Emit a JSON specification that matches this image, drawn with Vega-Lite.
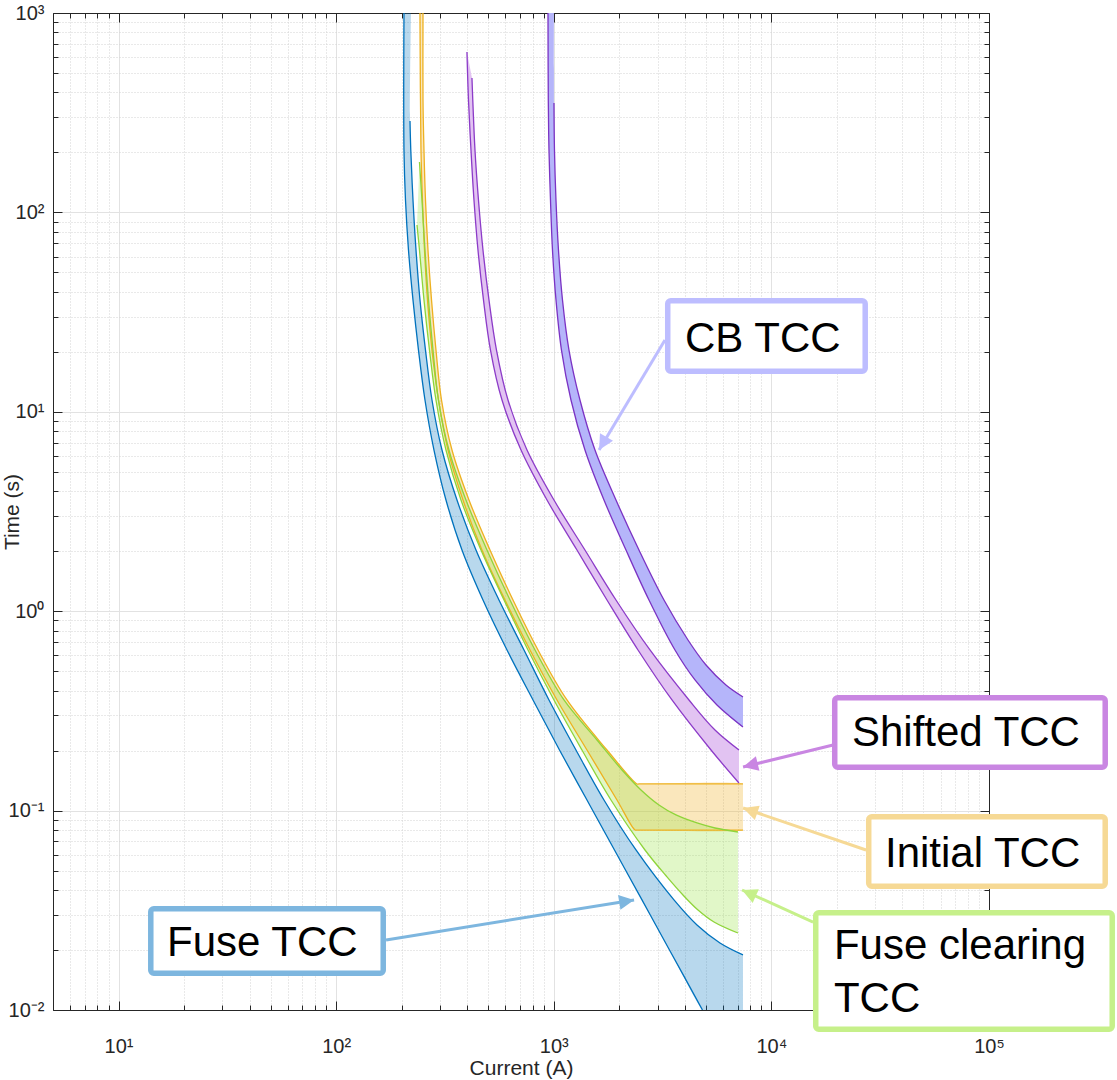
{
  "$schema": "https://vega.github.io/schema/vega-lite/v6.json",
  "width": 936,
  "height": 997,
  "autosize": {"type": "none"},
  "padding": {"left": 53, "top": 13, "right": 128, "bottom": 70},
  "background": "white",
  "config": {"view": {"stroke": null}, "font": "Liberation Sans"},
  "datasets": {
    "curves": [
      {"b":"fuse","s":1,"e":"lo","I":205.0,"t":1000},
      {"b":"fuse","s":2,"e":"lo","I":205.0,"t":205.6},
      {"b":"fuse","s":3,"e":"lo","I":208.3,"t":115.4},
      {"b":"fuse","s":4,"e":"lo","I":215.0,"t":64.8},
      {"b":"fuse","s":5,"e":"lo","I":225.5,"t":36.4},
      {"b":"fuse","s":6,"e":"lo","I":239.0,"t":20.4},
      {"b":"fuse","s":7,"e":"lo","I":256.0,"t":11.46},
      {"b":"fuse","s":8,"e":"lo","I":281.6,"t":6.432},
      {"b":"fuse","s":9,"e":"lo","I":319.7,"t":3.611},
      {"b":"fuse","s":10,"e":"lo","I":378.7,"t":2.027},
      {"b":"fuse","s":11,"e":"lo","I":472.9,"t":1.138},
      {"b":"fuse","s":12,"e":"lo","I":609.7,"t":0.639},
      {"b":"fuse","s":13,"e":"lo","I":802.9,"t":0.3587},
      {"b":"fuse","s":14,"e":"lo","I":1062.4,"t":0.2013},
      {"b":"fuse","s":15,"e":"lo","I":1421.1,"t":0.113},
      {"b":"fuse","s":16,"e":"lo","I":1901.2,"t":0.06345},
      {"b":"fuse","s":17,"e":"lo","I":2543.3,"t":0.03565},
      {"b":"fuse","s":18,"e":"lo","I":3402.2,"t":0.02},
      {"b":"fuse","s":19,"e":"lo","I":4824.9,"t":0.01},
      {"b":"fuse","s":19.5,"e":"","I":4870,"t":0.01},
      {"b":"fuse","s":20,"e":"","I":7330,"t":0.01},
      {"b":"fuse","s":21,"e":"","I":7405,"t":0.01},
      {"b":"fuse","s":22,"e":"","I":7405,"t":0.0102},
      {"b":"fuse","s":23,"e":"","I":7405,"t":0.0186},
      {"b":"fuse","s":24,"e":"hi","I":7405,"t":0.01888},
      {"b":"fuse","s":25,"e":"hi","I":5805,"t":0.02168},
      {"b":"fuse","s":26,"e":"hi","I":4552.2,"t":0.0267},
      {"b":"fuse","s":27,"e":"hi","I":3568,"t":0.03565},
      {"b":"fuse","s":28,"e":"hi","I":2386.8,"t":0.06345},
      {"b":"fuse","s":29,"e":"hi","I":1701.3,"t":0.113},
      {"b":"fuse","s":30,"e":"hi","I":1264.9,"t":0.2013},
      {"b":"fuse","s":31,"e":"hi","I":950.8,"t":0.3587},
      {"b":"fuse","s":32,"e":"hi","I":730,"t":0.639},
      {"b":"fuse","s":33,"e":"hi","I":560.2,"t":1.138},
      {"b":"fuse","s":34,"e":"hi","I":439.1,"t":2.027},
      {"b":"fuse","s":35,"e":"hi","I":359.2,"t":3.611},
      {"b":"fuse","s":36,"e":"hi","I":306.5,"t":6.432},
      {"b":"fuse","s":37,"e":"hi","I":275.7,"t":11.46},
      {"b":"fuse","s":38,"e":"hi","I":257.4,"t":20.4},
      {"b":"fuse","s":39,"e":"hi","I":242.8,"t":36.4},
      {"b":"fuse","s":40,"e":"hi","I":232.8,"t":64.8},
      {"b":"fuse","s":41,"e":"hi","I":225.5,"t":115.4},
      {"b":"fuse","s":42,"e":"hi","I":220.3,"t":205.6},
      {"b":"fuse","s":43,"e":"hi","I":218.5,"t":287.3},
      {"b":"fuse","s":44,"e":"","I":220.8,"t":1000},

      {"b":"initial","s":1,"e":"hi","I":250.7,"t":1000},
      {"b":"initial","s":2,"e":"hi","I":250.7,"t":366.2},
      {"b":"initial","s":3,"e":"hi","I":253.3,"t":205.6},
      {"b":"initial","s":4,"e":"hi","I":257.4,"t":115.4},
      {"b":"initial","s":5,"e":"hi","I":264.3,"t":64.8},
      {"b":"initial","s":6,"e":"hi","I":274.3,"t":36.4},
      {"b":"initial","s":7,"e":"hi","I":287.6,"t":20.4},
      {"b":"initial","s":8,"e":"hi","I":304.9,"t":11.46},
      {"b":"initial","s":9,"e":"hi","I":340.7,"t":6.432},
      {"b":"initial","s":10,"e":"hi","I":407.8,"t":3.611},
      {"b":"initial","s":11,"e":"hi","I":509.3,"t":2.027},
      {"b":"initial","s":12,"e":"hi","I":649.7,"t":1.138},
      {"b":"initial","s":13,"e":"hi","I":846.5,"t":0.639},
      {"b":"initial","s":14,"e":"hi","I":1150.1,"t":0.3587},
      {"b":"initial","s":15,"e":"hi","I":1756.1,"t":0.2013},
      {"b":"initial","s":16,"e":"hi","I":2412.2,"t":0.136},
      {"b":"initial","s":17,"e":"hi","I":2463.8,"t":0.136},
      {"b":"initial","s":18,"e":"hi","I":7405,"t":0.136},
      {"b":"initial","s":19,"e":"","I":7405,"t":0.134},
      {"b":"initial","s":20,"e":"","I":7405,"t":0.0811},
      {"b":"initial","s":21,"e":"lo","I":7405,"t":0.0799},
      {"b":"initial","s":22,"e":"lo","I":2412.2,"t":0.0799},
      {"b":"initial","s":23,"e":"lo","I":2361.7,"t":0.0799},
      {"b":"initial","s":24,"e":"lo","I":1952.2,"t":0.113},
      {"b":"initial","s":25,"e":"lo","I":1421.1,"t":0.2013},
      {"b":"initial","s":26,"e":"lo","I":1034.6,"t":0.3587},
      {"b":"initial","s":27,"e":"lo","I":777.8,"t":0.639},
      {"b":"initial","s":28,"e":"lo","I":597,"t":1.138},
      {"b":"initial","s":29,"e":"lo","I":467.9,"t":2.027},
      {"b":"initial","s":30,"e":"lo","I":382.7,"t":3.611},
      {"b":"initial","s":31,"e":"lo","I":326.5,"t":6.432},
      {"b":"initial","s":32,"e":"lo","I":295.3,"t":11.46},
      {"b":"initial","s":33,"e":"lo","I":275.7,"t":20.4},
      {"b":"initial","s":34,"e":"lo","I":262.9,"t":36.4},
      {"b":"initial","s":35,"e":"lo","I":254.7,"t":64.8},
      {"b":"initial","s":36,"e":"lo","I":249.3,"t":115.4},
      {"b":"initial","s":37,"e":"lo","I":245.4,"t":205.6},
      {"b":"initial","s":38,"e":"lo","I":242.8,"t":1000},

      {"b":"clearing","s":1,"e":"hi","I":241.5,"t":178.9},
      {"b":"clearing","s":2,"e":"hi","I":248,"t":115.4},
      {"b":"clearing","s":3,"e":"hi","I":256,"t":64.8},
      {"b":"clearing","s":4,"e":"hi","I":265.7,"t":36.4},
      {"b":"clearing","s":5,"e":"hi","I":278.7,"t":20.4},
      {"b":"clearing","s":6,"e":"hi","I":295.3,"t":11.46},
      {"b":"clearing","s":7,"e":"hi","I":330,"t":6.432},
      {"b":"clearing","s":8,"e":"hi","I":395,"t":3.611},
      {"b":"clearing","s":9,"e":"hi","I":493.4,"t":2.027},
      {"b":"clearing","s":10,"e":"hi","I":629.4,"t":1.138},
      {"b":"clearing","s":11,"e":"hi","I":820,"t":0.639},
      {"b":"clearing","s":12,"e":"hi","I":1114.2,"t":0.3587},
      {"b":"clearing","s":13,"e":"hi","I":1579.9,"t":0.2259},
      {"b":"clearing","s":14,"e":"hi","I":2058.3,"t":0.1598},
      {"b":"clearing","s":15,"e":"hi","I":2516.5,"t":0.1269},
      {"b":"clearing","s":16,"e":"hi","I":3044.5,"t":0.1067},
      {"b":"clearing","s":17,"e":"hi","I":3644.3,"t":0.0951},
      {"b":"clearing","s":18,"e":"hi","I":4552.2,"t":0.0867},
      {"b":"clearing","s":19,"e":"hi","I":5507.1,"t":0.0818},
      {"b":"clearing","s":20,"e":"hi","I":7022.5,"t":0.0781},
      {"b":"clearing","s":21,"e":"","I":7022.5,"t":0.0772},
      {"b":"clearing","s":22,"e":"","I":7022.5,"t":0.0249},
      {"b":"clearing","s":23,"e":"lo","I":7022.5,"t":0.02433},
      {"b":"clearing","s":24,"e":"lo","I":5449.2,"t":0.02763},
      {"b":"clearing","s":25,"e":"lo","I":4600.6,"t":0.03174},
      {"b":"clearing","s":26,"e":"lo","I":3924.6,"t":0.03774},
      {"b":"clearing","s":27,"e":"lo","I":3313.4,"t":0.0465},
      {"b":"clearing","s":28,"e":"lo","I":2625.3,"t":0.06345},
      {"b":"clearing","s":29,"e":"lo","I":1832.1,"t":0.113},
      {"b":"clearing","s":30,"e":"lo","I":1347.9,"t":0.2013},
      {"b":"clearing","s":31,"e":"lo","I":1002.3,"t":0.3587},
      {"b":"clearing","s":32,"e":"lo","I":761.5,"t":0.639},
      {"b":"clearing","s":33,"e":"lo","I":590.7,"t":1.138},
      {"b":"clearing","s":34,"e":"lo","I":463,"t":2.027},
      {"b":"clearing","s":35,"e":"lo","I":374.7,"t":3.611},
      {"b":"clearing","s":36,"e":"lo","I":319.7,"t":6.432},
      {"b":"clearing","s":37,"e":"lo","I":287.6,"t":11.46},
      {"b":"clearing","s":38,"e":"lo","I":268.5,"t":20.4},
      {"b":"clearing","s":39,"e":"lo","I":253.3,"t":36.4},
      {"b":"clearing","s":40,"e":"lo","I":241.5,"t":64.8},
      {"b":"clearing","s":41,"e":"lo","I":235.3,"t":86.5},

      {"b":"shifted","s":1,"e":"lo","I":399.2,"t":637.4},
      {"b":"shifted","s":2,"e":"lo","I":405.6,"t":366.2},
      {"b":"shifted","s":3,"e":"lo","I":416.5,"t":205.6},
      {"b":"shifted","s":4,"e":"lo","I":429.9,"t":115.4},
      {"b":"shifted","s":5,"e":"lo","I":448.5,"t":64.8},
      {"b":"shifted","s":6,"e":"lo","I":475.4,"t":36.4},
      {"b":"shifted","s":7,"e":"lo","I":512,"t":20.4},
      {"b":"shifted","s":8,"e":"lo","I":578.3,"t":11.46},
      {"b":"shifted","s":9,"e":"lo","I":707.2,"t":6.432},
      {"b":"shifted","s":10,"e":"lo","I":930.9,"t":3.611},
      {"b":"shifted","s":11,"e":"lo","I":1278.3,"t":2.027},
      {"b":"shifted","s":12,"e":"lo","I":1756.1,"t":1.138},
      {"b":"shifted","s":13,"e":"lo","I":2437.9,"t":0.639},
      {"b":"shifted","s":14,"e":"lo","I":3493.4,"t":0.3587},
      {"b":"shifted","s":15,"e":"lo","I":5278.9,"t":0.2013},
      {"b":"shifted","s":16,"e":"lo","I":7097.1,"t":0.1376},
      {"b":"shifted","s":17,"e":"","I":7097.1,"t":0.1396},
      {"b":"shifted","s":18,"e":"","I":7097.1,"t":0.1985},
      {"b":"shifted","s":19,"e":"hi","I":7097.1,"t":0.2013},
      {"b":"shifted","s":20,"e":"hi","I":5507.1,"t":0.2536},
      {"b":"shifted","s":21,"e":"hi","I":4182.1,"t":0.3587},
      {"b":"shifted","s":22,"e":"hi","I":2768,"t":0.639},
      {"b":"shifted","s":23,"e":"hi","I":1931.6,"t":1.138},
      {"b":"shifted","s":24,"e":"hi","I":1391.3,"t":2.027},
      {"b":"shifted","s":25,"e":"hi","I":1002.3,"t":3.611},
      {"b":"shifted","s":26,"e":"hi","I":753.5,"t":6.432},
      {"b":"shifted","s":27,"e":"hi","I":616.2,"t":11.46},
      {"b":"shifted","s":28,"e":"hi","I":545.6,"t":20.4},
      {"b":"shifted","s":29,"e":"hi","I":503.9,"t":36.4},
      {"b":"shifted","s":30,"e":"hi","I":472.9,"t":64.8},
      {"b":"shifted","s":31,"e":"hi","I":450.9,"t":115.4},
      {"b":"shifted","s":32,"e":"hi","I":434.5,"t":205.6},
      {"b":"shifted","s":33,"e":"hi","I":424.5,"t":366.2},
      {"b":"shifted","s":34,"e":"hi","I":420.9,"t":472.1},

      {"b":"cb","s":1,"e":"lo","I":940.8,"t":1000},
      {"b":"cb","s":2,"e":"lo","I":943.8,"t":366.2},
      {"b":"cb","s":3,"e":"lo","I":950.8,"t":205.6},
      {"b":"cb","s":4,"e":"lo","I":966,"t":115.4},
      {"b":"cb","s":5,"e":"lo","I":986.6,"t":64.8},
      {"b":"cb","s":6,"e":"lo","I":1023.8,"t":36.4},
      {"b":"cb","s":7,"e":"lo","I":1085.1,"t":20.4},
      {"b":"cb","s":8,"e":"lo","I":1199.9,"t":11.46},
      {"b":"cb","s":9,"e":"lo","I":1391.3,"t":6.432},
      {"b":"cb","s":10,"e":"lo","I":1701.3,"t":3.611},
      {"b":"cb","s":11,"e":"lo","I":2147.3,"t":2.027},
      {"b":"cb","s":12,"e":"lo","I":2738.8,"t":1.138},
      {"b":"cb","s":13,"e":"lo","I":3606,"t":0.639},
      {"b":"cb","s":14,"e":"lo","I":4456.9,"t":0.452},
      {"b":"cb","s":15,"e":"lo","I":5623.4,"t":0.3386},
      {"b":"cb","s":16,"e":"lo","I":7405,"t":0.2627},
      {"b":"cb","s":17,"e":"","I":7405,"t":0.2655},
      {"b":"cb","s":18,"e":"","I":7405,"t":0.367},
      {"b":"cb","s":19,"e":"hi","I":7405,"t":0.3713},
      {"b":"cb","s":20,"e":"hi","I":6183.3,"t":0.4265},
      {"b":"cb","s":21,"e":"hi","I":5006.9,"t":0.537},
      {"b":"cb","s":22,"e":"hi","I":4138,"t":0.717},
      {"b":"cb","s":23,"e":"hi","I":3209.9,"t":1.138},
      {"b":"cb","s":24,"e":"hi","I":2463.8,"t":2.027},
      {"b":"cb","s":25,"e":"hi","I":1931.6,"t":3.611},
      {"b":"cb","s":26,"e":"hi","I":1546.8,"t":6.432},
      {"b":"cb","s":27,"e":"hi","I":1319.6,"t":11.46},
      {"b":"cb","s":28,"e":"hi","I":1174.8,"t":20.4},
      {"b":"cb","s":29,"e":"hi","I":1096.6,"t":36.4},
      {"b":"cb","s":30,"e":"hi","I":1051.2,"t":64.8},
      {"b":"cb","s":31,"e":"hi","I":1023.8,"t":115.4},
      {"b":"cb","s":32,"e":"hi","I":1007.6,"t":205.6},
      {"b":"cb","s":33,"e":"hi","I":1002.3,"t":353.7},
      {"b":"cb","s":34,"e":"","I":1002.3,"t":1000}
    ],
    "arrows": [
      {"label":"CB TCC","I1":3244,"t1":22.92,"I2":1615,"t2":6.43},
      {"label":"Shifted TCC","I1":19210,"t1":0.2133,"I2":7413,"t2":0.1655},
      {"label":"Initial TCC","I1":27240,"t1":0.06345,"I2":7413,"t2":0.103},
      {"label":"Fuse clearing TCC","I1":15545,"t1":0.02762,"I2":7335,"t2":0.03998},
      {"label":"Fuse TCC","I1":169.6,"t1":0.02244,"I2":2339,"t2":0.03565}
    ],
    "boxes": [
      {"label":"CB TCC","x1":3340,"x2":26990,"y1":15.97,"y2":36.06},
      {"label":"Shifted TCC","x1":19550,"x2":342000,"y1":0.165,"y2":0.3681},
      {"label":"Initial TCC","x1":28010,"x2":342000,"y1":0.04176,"y2":0.0931},
      {"label":"Fuse clearing TCC","x1":15990,"x2":368300,"y1":0.00801,"y2":0.03075},
      {"label":"Fuse TCC","x1":14.07,"x2":164.6,"y1":0.01528,"y2":0.03219}
    ],
    "texts": [
      {"txt":"CB TCC","I":4009,"t":19.95},
      {"txt":"Shifted TCC","I":23460,"t":0.2109},
      {"txt":"Initial TCC","I":33270,"t":0.05215},
      {"txt":"Fuse clearing","I":19390,"t":0.01803},
      {"txt":"TCC","I":19390,"t":0.00977},
      {"txt":"Fuse TCC","I":16.7,"t":0.01866}
    ]
  },
  "layer": [
    {
      "data": {"name": "curves"},
      "mark": {"type": "line", "filled": true, "stroke": "transparent", "clip": true, "interpolate": "catmull-rom"},
      "encoding": {
        "x": {"field": "I", "type": "quantitative", "scale": {"type": "log", "domain": [5, 100000], "nice": false},
          "axis": {
            "orient": "bottom",
            "values": [5,6,7,8,9,10,20,30,40,50,60,70,80,90,100,200,300,400,500,600,700,800,900,1000,2000,3000,4000,5000,6000,7000,8000,9000,10000,20000,30000,40000,50000,60000,70000,80000,90000,100000],
            "title": "Current (A)",
            "grid": true,
            "gridColor": {"condition": {"test": "abs(log(datum.value)/LN10-round(log(datum.value)/LN10))<0.001", "value": "#e2e2e2"}, "value": "#d2d2d2"},
            "gridDash": {"condition": {"test": "abs(log(datum.value)/LN10-round(log(datum.value)/LN10))<0.001", "value": []}, "value": [1, 2]},
            "gridWidth": 1,
            "domainColor": "#262626",
            "tickColor": "#262626",
            "tickWidth": 1,
            "tickSize": {"condition": {"test": "abs(log(datum.value)/LN10-round(log(datum.value)/LN10))<0.001", "value": -9}, "value": -5},
            "labelExpr": "datum.value==10?'10¹':datum.value==100?'10²':datum.value==1000?'10³':datum.value==10000?'10⁴':datum.value==100000?'10⁵':''",
            "labelFont": "Liberation Sans",
            "labelFontSize": 20,
            "labelColor": "#262626",
            "labelPadding": 35,
            "labelFlush": false,
            "labelOverlap": false,
            "labelBound": false,
            "titleFont": "Liberation Sans",
            "titleFontSize": 21,
            "titleFontWeight": "normal",
            "titleColor": "#262626",
            "titleY": 58,
            "titleBaseline": "middle"
          }
        },
        "y": {"field": "t", "type": "quantitative", "scale": {"type": "log", "domain": [0.01, 1000], "nice": false},
          "axis": {
            "orient": "left",
            "values": [0.01,0.02,0.03,0.04,0.05,0.06,0.07,0.08,0.09,0.1,0.2,0.3,0.4,0.5,0.6,0.7,0.8,0.9,1,2,3,4,5,6,7,8,9,10,20,30,40,50,60,70,80,90,100,200,300,400,500,600,700,800,900,1000],
            "title": "Time (s)",
            "grid": true,
            "gridColor": {"condition": {"test": "abs(log(datum.value)/LN10-round(log(datum.value)/LN10))<0.001", "value": "#e2e2e2"}, "value": "#d2d2d2"},
            "gridDash": {"condition": {"test": "abs(log(datum.value)/LN10-round(log(datum.value)/LN10))<0.001", "value": []}, "value": [1, 2]},
            "gridWidth": 1,
            "domainColor": "#262626",
            "tickColor": "#262626",
            "tickWidth": 1,
            "tickSize": {"condition": {"test": "abs(log(datum.value)/LN10-round(log(datum.value)/LN10))<0.001", "value": -9}, "value": -5},
            "labelExpr": "datum.value==0.01?'10⁻²':datum.value==0.1?'10⁻¹':datum.value==1?'10⁰':datum.value==10?'10¹':datum.value==100?'10²':datum.value==1000?'10³':''",
            "labelFont": "Liberation Sans",
            "labelFontSize": 20,
            "labelColor": "#262626",
            "labelPadding": 18,
            "labelFlush": false,
            "labelOverlap": false,
            "labelBound": false,
            "titleFont": "Liberation Sans",
            "titleFontSize": 21,
            "titleFontWeight": "normal",
            "titleColor": "#262626",
            "titleX": -41,
            "titleBaseline": "middle"
          }
        },
        "fill": {"field": "b", "type": "nominal", "scale": {"domain": ["fuse","initial","clearing","shifted","cb"], "range": ["rgba(0,114,189,0.28)","rgba(237,177,32,0.3)","rgba(155,228,72,0.3)","#e2c3f2","#b5b5fa"]}, "legend": null},
        "order": {"field": "s", "type": "quantitative"}
      }
    },
    {
      "data": {"name": "curves"},
      "transform": [{"filter": "datum.e != ''"}],
      "mark": {"type": "line", "strokeWidth": 1.3, "clip": true, "interpolate": "catmull-rom"},
      "encoding": {
        "x": {"field": "I", "type": "quantitative", "scale": {"type": "log", "domain": [5, 100000], "nice": false},
          "axis": {
            "orient": "top",
            "values": [5,6,7,8,9,10,20,30,40,50,60,70,80,90,100,200,300,400,500,600,700,800,900,1000,2000,3000,4000,5000,6000,7000,8000,9000,10000,20000,30000,40000,50000,60000,70000,80000,90000,100000],
            "title": null, "labels": false, "grid": false,
            "domainColor": "#262626", "tickColor": "#262626", "tickWidth": 1,
            "tickSize": {"condition": {"test": "abs(log(datum.value)/LN10-round(log(datum.value)/LN10))<0.001", "value": -9}, "value": -5}
          }
        },
        "y": {"field": "t", "type": "quantitative", "scale": {"type": "log", "domain": [0.01, 1000], "nice": false},
          "axis": {
            "orient": "right",
            "values": [0.01,0.02,0.03,0.04,0.05,0.06,0.07,0.08,0.09,0.1,0.2,0.3,0.4,0.5,0.6,0.7,0.8,0.9,1,2,3,4,5,6,7,8,9,10,20,30,40,50,60,70,80,90,100,200,300,400,500,600,700,800,900,1000],
            "title": null, "labels": false, "grid": false,
            "domainColor": "#262626", "tickColor": "#262626", "tickWidth": 1,
            "tickSize": {"condition": {"test": "abs(log(datum.value)/LN10-round(log(datum.value)/LN10))<0.001", "value": -9}, "value": -5}
          }
        },
        "stroke": {"field": "b", "type": "nominal", "scale": {"domain": ["fuse","initial","clearing","shifted","cb"], "range": ["#0072bd","#edb120","#8fd43a","#8c3bc8","#7b33c4"]}, "legend": null},
        "detail": {"field": "e", "type": "nominal"},
        "order": {"field": "s", "type": "quantitative"}
      }
    },
    {
      "data": {"name": "arrows"},
      "mark": {"type": "rule", "strokeWidth": 3},
      "encoding": {
        "x": {"field": "I1", "type": "quantitative", "scale": {"type": "log", "domain": [5, 100000], "nice": false}, "axis": null},
        "y": {"field": "t1", "type": "quantitative", "scale": {"type": "log", "domain": [0.01, 1000], "nice": false}, "axis": null},
        "x2": {"field": "I2"},
        "y2": {"field": "t2"},
        "stroke": {"field": "label", "type": "nominal", "scale": {"domain": ["CB TCC","Shifted TCC","Initial TCC","Fuse clearing TCC","Fuse TCC"], "range": ["#bdbdff","#c986e2","#f6d995","#c6f08a","#7db6df"]}, "legend": null}
      }
    },
    {
      "data": {"name": "arrows"},
      "transform": [{"filter": "datum.label == 'CB TCC'"}],
      "mark": {"type": "point", "shape": "M0,0L-0.5,1L0.5,1Z", "size": 900, "filled": true, "opacity": 1, "color": "#bdbdff", "angle": 209.7},
      "encoding": {
        "x": {"field": "I2", "type": "quantitative", "scale": {"type": "log", "domain": [5, 100000], "nice": false}, "axis": null},
        "y": {"field": "t2", "type": "quantitative", "scale": {"type": "log", "domain": [0.01, 1000], "nice": false}, "axis": null}
      }
    },
    {
      "data": {"name": "arrows"},
      "transform": [{"filter": "datum.label == 'Shifted TCC'"}],
      "mark": {"type": "point", "shape": "M0,0L-0.5,1L0.5,1Z", "size": 900, "filled": true, "opacity": 1, "color": "#c986e2", "angle": 256.3},
      "encoding": {
        "x": {"field": "I2", "type": "quantitative", "scale": {"type": "log", "domain": [5, 100000], "nice": false}, "axis": null},
        "y": {"field": "t2", "type": "quantitative", "scale": {"type": "log", "domain": [0.01, 1000], "nice": false}, "axis": null}
      }
    },
    {
      "data": {"name": "arrows"},
      "transform": [{"filter": "datum.label == 'Initial TCC'"}],
      "mark": {"type": "point", "shape": "M0,0L-0.5,1L0.5,1Z", "size": 900, "filled": true, "opacity": 1, "color": "#f6d995", "angle": 288.9},
      "encoding": {
        "x": {"field": "I2", "type": "quantitative", "scale": {"type": "log", "domain": [5, 100000], "nice": false}, "axis": null},
        "y": {"field": "t2", "type": "quantitative", "scale": {"type": "log", "domain": [0.01, 1000], "nice": false}, "axis": null}
      }
    },
    {
      "data": {"name": "arrows"},
      "transform": [{"filter": "datum.label == 'Fuse clearing TCC'"}],
      "mark": {"type": "point", "shape": "M0,0L-0.5,1L0.5,1Z", "size": 900, "filled": true, "opacity": 1, "color": "#c6f08a", "angle": 294.3},
      "encoding": {
        "x": {"field": "I2", "type": "quantitative", "scale": {"type": "log", "domain": [5, 100000], "nice": false}, "axis": null},
        "y": {"field": "t2", "type": "quantitative", "scale": {"type": "log", "domain": [0.01, 1000], "nice": false}, "axis": null}
      }
    },
    {
      "data": {"name": "arrows"},
      "transform": [{"filter": "datum.label == 'Fuse TCC'"}],
      "mark": {"type": "point", "shape": "M0,0L-0.5,1L0.5,1Z", "size": 900, "filled": true, "opacity": 1, "color": "#7db6df", "angle": 80.8},
      "encoding": {
        "x": {"field": "I2", "type": "quantitative", "scale": {"type": "log", "domain": [5, 100000], "nice": false}, "axis": null},
        "y": {"field": "t2", "type": "quantitative", "scale": {"type": "log", "domain": [0.01, 1000], "nice": false}, "axis": null}
      }
    },
    {
      "data": {"name": "boxes"},
      "mark": {"type": "rect", "fill": "white", "strokeWidth": 5.5, "cornerRadius": 3},
      "encoding": {
        "x": {"field": "x1", "type": "quantitative", "scale": {"type": "log", "domain": [5, 100000], "nice": false}, "axis": null},
        "x2": {"field": "x2"},
        "y": {"field": "y1", "type": "quantitative", "scale": {"type": "log", "domain": [0.01, 1000], "nice": false}, "axis": null},
        "y2": {"field": "y2"},
        "stroke": {"field": "label", "type": "nominal", "scale": {"domain": ["CB TCC","Shifted TCC","Initial TCC","Fuse clearing TCC","Fuse TCC"], "range": ["#bdbdff","#c986e2","#f6d995","#c6f08a","#7db6df"]}, "legend": null}
      }
    },
    {
      "data": {"name": "texts"},
      "mark": {"type": "text", "align": "left", "baseline": "alphabetic", "font": "Liberation Sans", "fontSize": 42, "color": "#000000"},
      "encoding": {
        "x": {"field": "I", "type": "quantitative", "scale": {"type": "log", "domain": [5, 100000], "nice": false}, "axis": null},
        "y": {"field": "t", "type": "quantitative", "scale": {"type": "log", "domain": [0.01, 1000], "nice": false}, "axis": null},
        "text": {"field": "txt", "type": "nominal"}
      }
    }
  ],
  "resolve": {
    "axis": {"x": "independent", "y": "independent"},
    "scale": {"fill": "independent", "stroke": "independent"}
  }
}
